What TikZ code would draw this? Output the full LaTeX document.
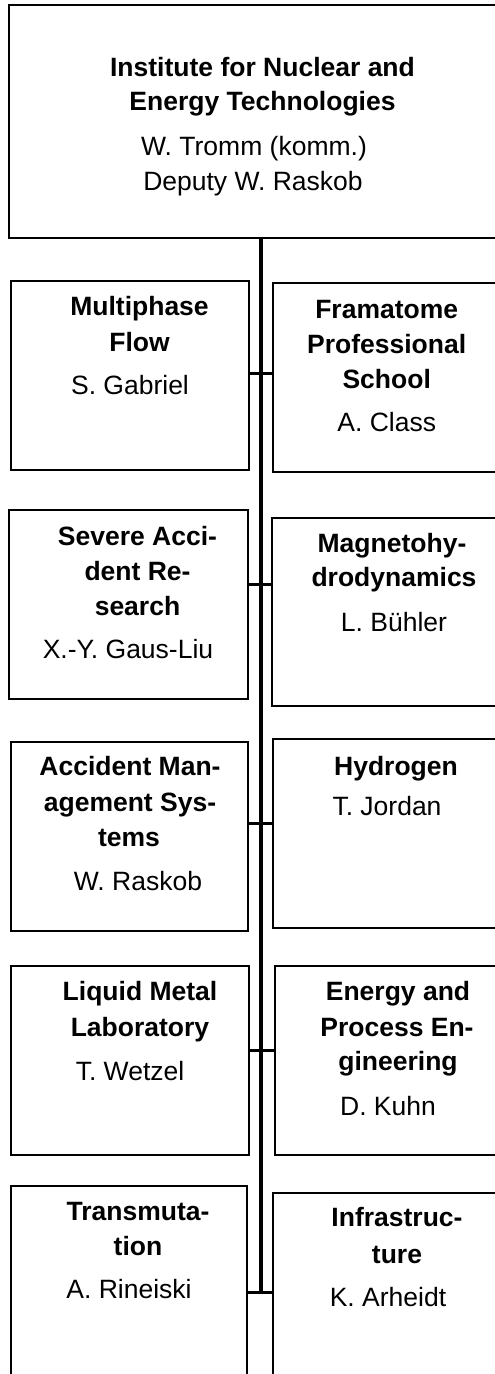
\documentclass[tikz,border=0pt]{standalone}
\usepackage{fontspec}
\setmainfont{Liberation Sans}
\begin{document}
\begin{tikzpicture}[x=1pt,y=-1pt,
  box/.style={draw=black, line width=2pt, rectangle, inner sep=0pt, outer sep=0pt},
  ttl/.style={anchor=base, inner sep=0pt, font=\fontsize{26.5}{32}\selectfont\bfseries},
  nm/.style={anchor=base, inner sep=0pt, font=\fontsize{26.5}{32}\selectfont},
  spine/.style={line width=3.5pt, black},
  tick/.style={line width=3pt, black}]
\useasboundingbox (0,0) rectangle (495,1374);
\clip (0,0) rectangle (495,1374);
\newcommand{\bx}[5]{\node[box, minimum width={#4-#2}, minimum height={#5-#3}] (#1) at ({(#2+#4)/2},{(#3+#5)/2}) {};}
% boxes
\bx{top}{9}{5}{520}{238}
\bx{b1}{11}{281}{249}{470}
\bx{b2}{273}{283}{520}{472}
\bx{b3}{9}{510}{248}{699}
\bx{b4}{272}{518}{520}{706}
\bx{b5}{11}{742}{248}{931}
\bx{b6}{273}{739}{520}{928}
\bx{b7}{11}{966}{249}{1155}
\bx{b8}{275}{966}{520}{1155}
\bx{b9}{11}{1186}{247}{1374.5}
\bx{b10}{273}{1193}{520}{1390}
% spine
\coordinate (sT) at (261,238);
\coordinate (sB) at (261,1292);
\draw[spine] (sT) -- (sB);
% ticks
\draw[tick] (b1.east |- 0,373) -- (b2.west |- 0,373);
\draw[tick] (b3.east |- 0,584) -- (b4.west |- 0,584);
\draw[tick] (b5.east |- 0,823) -- (b6.west |- 0,823);
\draw[tick] (b7.east |- 0,1050) -- (b8.west |- 0,1050);
\draw[tick] (b9.east |- 0,1292) -- (b10.west |- 0,1292);
% top box text
\node[ttl] (t1) at (262.5,76) {Institute for Nuclear and};
\node[ttl] (t2) at (262.5,110) {Energy Technologies};
\node[nm] (t3) at (254,155) {W. Tromm (komm.)};
\node[nm] (t4) at (253,190) {Deputy W. Raskob};
% b1
\node[ttl] (l11) at (139.5,315) {Multiphase};
\node[ttl] (l12) at (139.5,351.5) {Flow};
\node[nm] (l13) at (130,394) {S. Gabriel};
% b2
\node[ttl] (l21) at (386.7,318.3) {Framatome};
\node[ttl] (l22) at (386.7,353.3) {Professional};
\node[ttl] (l23) at (386.7,388.3) {School};
\node[nm] (l24) at (386.7,431.7) {A. Class};
% b3
\node[ttl] (l31) at (137.5,545) {Severe Acci-};
\node[ttl] (l32) at (137.5,580) {dent Re-};
\node[ttl] (l33) at (137.5,615) {search};
\node[nm] (l34) at (128,658.3) {X.-Y. Gaus-Liu};
% b4
\node[ttl] (l41) at (392,552.5) {Magnetohy-};
\node[ttl] (l42) at (394,586.7) {drodynamics};
\node[nm] (l43) at (394,631.7) {L. Bühler};
% b5
\node[ttl] (l51) at (130,775) {Accident Man-};
\node[ttl] (l52) at (130,811.7) {agement Sys-};
\node[ttl] (l53) at (129,846.7) {tems};
\node[nm] (l54) at (138,890) {W. Raskob};
% b6
\node[ttl] (l61) at (396,775) {Hydrogen};
\node[nm] (l62) at (387,815) {T. Jordan};
% b7
\node[ttl] (l71) at (140,1000.7) {Liquid Metal};
\node[ttl] (l72) at (140,1036.7) {Laboratory};
\node[nm] (l73) at (130,1080) {T. Wetzel};
% b8
\node[ttl] (l81) at (398,1000.7) {Energy and};
\node[ttl] (l82) at (397,1036.7) {Process En-};
\node[ttl] (l83) at (398,1070) {gineering};
\node[nm] (l84) at (388,1115) {D. Kuhn};
% b9
\node[ttl] (l91) at (138,1220) {Transmuta-};
\node[ttl] (l92) at (138,1255) {tion};
\node[nm] (l93) at (129,1298.3) {A. Rineiski};
% b10
\node[ttl] (l101) at (397,1226.7) {Infrastruc-};
\node[ttl] (l102) at (397,1263.3) {ture};
\node[nm] (l103) at (388,1306.7) {K. Arheidt};
\end{tikzpicture}
\end{document}
